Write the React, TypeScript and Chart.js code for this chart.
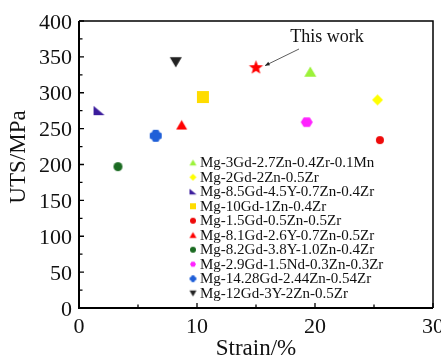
import { useEffect, useRef } from 'react';
import { Chart, registerables } from 'chart.js';

Chart.register(...registerables);

// Alloys compared: elongation (%) vs ultimate tensile strength (MPa)
const alloys = [
  'Mg-3Gd-2.7Zn-0.4Zr-0.1Mn',
  'Mg-2Gd-2Zn-0.5Zr',
  'Mg-8.5Gd-4.5Y-0.7Zn-0.4Zr',
  'Mg-10Gd-1Zn-0.4Zr',
  'Mg-1.5Gd-0.5Zn-0.5Zr',
  'Mg-8.1Gd-2.6Y-0.7Zn-0.5Zr',
  'Mg-8.2Gd-3.8Y-1.0Zn-0.4Zr',
  'Mg-2.9Gd-1.5Nd-0.3Zn-0.3Zr',
  'Mg-14.28Gd-2.44Zn-0.54Zr',
  'Mg-12Gd-3Y-2Zn-0.5Zr',
];
const strain = [19.6, 25.3, 1.7, 10.5, 25.5, 8.7, 3.3, 19.3, 6.5, 8.2];
const uts = [329, 290, 275, 294, 234, 255, 197, 259, 240, 343];

const thisWorkLabel = 'This work';
const thisWorkStrain = 15.0;
const thisWorkUts = 335;

const colors = [
  '#9cf23a', '#ffff00', '#3b1c9c', '#ffdc00', '#ee0a0a',
  '#ff0000', '#1b6b22', '#ff22ff', '#1f5fd8', '#222222',
];
const shapes = [
  'triangle', 'diamond', 'rightTriangle', 'square', 'circle',
  'triangle', 'circle', 'hexagon', 'cross', 'downTriangle',
];
const sizes = [12, 11, 11, 12, 8, 11, 9, 12, 12, 12];
const legendSizes = [7, 7, 7, 6, 6, 7, 6, 6, 7, 7];

const xTicks = [0, 10, 20, 30];
const yTicks = [0, 50, 100, 150, 200, 250, 300, 350, 400];

const SERIF = '"Liberation Serif", "Times New Roman", serif';

function makeMarker(shape: string, color: string, size: number): HTMLCanvasElement {
  const pad = 2;
  const w = Math.ceil(size + pad * 2);
  const c = document.createElement('canvas');
  c.width = w;
  c.height = w;
  const ctx = c.getContext('2d') as CanvasRenderingContext2D;
  const m = w / 2;
  const r = size / 2;
  ctx.fillStyle = color;
  ctx.beginPath();
  switch (shape) {
    case 'triangle':
      ctx.moveTo(m, m - r * 0.9);
      ctx.lineTo(m + r, m + r * 0.8);
      ctx.lineTo(m - r, m + r * 0.8);
      ctx.closePath();
      break;
    case 'downTriangle':
      ctx.moveTo(m - r, m - r * 0.8);
      ctx.lineTo(m + r, m - r * 0.8);
      ctx.lineTo(m, m + r * 0.9);
      ctx.closePath();
      break;
    case 'rightTriangle':
      ctx.moveTo(m - r, m - r * 0.85);
      ctx.lineTo(m + r, m + r * 0.8);
      ctx.lineTo(m - r, m + r * 0.8);
      ctx.closePath();
      break;
    case 'diamond':
      ctx.moveTo(m, m - r);
      ctx.lineTo(m + r, m);
      ctx.lineTo(m, m + r);
      ctx.lineTo(m - r, m);
      ctx.closePath();
      break;
    case 'square':
      ctx.rect(m - r, m - r, 2 * r, 2 * r);
      break;
    case 'circle':
      ctx.arc(m, m, r, 0, Math.PI * 2);
      break;
    case 'hexagon':
      for (let i = 0; i < 6; i++) {
        const a = (Math.PI / 3) * i;
        const px = m + r * Math.cos(a);
        const py = m + r * 0.92 * Math.sin(a);
        if (i === 0) ctx.moveTo(px, py);
        else ctx.lineTo(px, py);
      }
      ctx.closePath();
      break;
    case 'cross': {
      const a = r * 0.6;
      (ctx as any).roundRect(m - r, m - a, 2 * r, 2 * a, 2);
      (ctx as any).roundRect(m - a, m - r, 2 * a, 2 * r, 2);
      break;
    }
    case 'star':
      for (let i = 0; i < 10; i++) {
        const rad = i % 2 === 0 ? r : r * 0.42;
        const ang = -Math.PI / 2 + (Math.PI / 5) * i;
        const px = m + rad * Math.cos(ang);
        const py = m + rad * Math.sin(ang);
        if (i === 0) ctx.moveTo(px, py);
        else ctx.lineTo(px, py);
      }
      ctx.closePath();
      break;
  }
  ctx.fill();
  return c;
}

export default function App() {
  const canvasRef = useRef<HTMLCanvasElement | null>(null);

  useEffect(() => {
    document.body.style.margin = '0';
    const canvas = canvasRef.current;
    if (!canvas) return;

    const markers = shapes.map((s, i) => makeMarker(s, colors[i], sizes[i]));
    const legendMarkers = shapes.map((s, i) => makeMarker(s, colors[i], legendSizes[i]));
    const starMarker = makeMarker('star', '#ff0000', 15);

    const datasets: any[] = alloys.map((name, i) => ({
      label: name,
      data: [{ x: strain[i], y: uts[i] }],
      pointStyle: markers[i],
      backgroundColor: colors[i],
      borderColor: colors[i],
      pointRadius: sizes[i] / 2,
    }));
    datasets.push({
      label: thisWorkLabel,
      data: [{ x: thisWorkStrain, y: thisWorkUts }],
      pointStyle: starMarker,
      backgroundColor: '#ff0000',
      borderColor: '#ff0000',
      pointRadius: 7,
    });

    const framePlugin = {
      id: 'frameAndAxes',
      beforeDatasetsDraw(chart: any) {
        const { ctx, chartArea: a, scales } = chart;
        const xs = scales.x;
        const ys = scales.y;
        ctx.save();
        ctx.strokeStyle = '#000';
        // top and right frame
        ctx.lineWidth = 1.5;
        ctx.beginPath();
        ctx.moveTo(a.left, a.top);
        ctx.lineTo(a.right, a.top);
        ctx.lineTo(a.right, a.bottom);
        ctx.stroke();
        // left and bottom axes
        ctx.lineWidth = 2;
        ctx.beginPath();
        ctx.moveTo(a.left, a.top);
        ctx.lineTo(a.left, a.bottom);
        ctx.lineTo(a.right, a.bottom);
        ctx.stroke();

        // inward ticks
        ctx.lineWidth = 1.3;
        ctx.beginPath();
        for (let i = 0; i < yTicks.length; i++) {
          const py = ys.getPixelForValue(yTicks[i]);
          ctx.moveTo(a.left, py);
          ctx.lineTo(a.left + 5, py);
          if (i < yTicks.length - 1) {
            const pm = ys.getPixelForValue((yTicks[i] + yTicks[i + 1]) / 2);
            ctx.moveTo(a.left, pm);
            ctx.lineTo(a.left + 3.5, pm);
          }
        }
        for (let i = 0; i < xTicks.length; i++) {
          const px = xs.getPixelForValue(xTicks[i]);
          ctx.moveTo(px, a.bottom);
          ctx.lineTo(px, a.bottom - 5);
          if (i < xTicks.length - 1) {
            const pm = xs.getPixelForValue((xTicks[i] + xTicks[i + 1]) / 2);
            ctx.moveTo(pm, a.bottom);
            ctx.lineTo(pm, a.bottom - 3.5);
          }
        }
        ctx.stroke();
        ctx.restore();
      },
      afterDraw(chart: any) {
        const { ctx, chartArea: a, scales } = chart;
        const xs = scales.x;
        const ys = scales.y;
        ctx.save();
        ctx.fillStyle = '#111';

        // tick labels
        ctx.font = `22px ${SERIF}`;
        ctx.textAlign = 'right';
        ctx.textBaseline = 'alphabetic';
        yTicks.forEach((v) => {
          ctx.fillText(String(v), a.left - 7, ys.getPixelForValue(v) + 7.5);
        });
        ctx.textAlign = 'center';
        xTicks.forEach((v) => {
          ctx.fillText(String(v), xs.getPixelForValue(v), a.bottom + 25);
        });

        // axis titles
        ctx.font = `23px ${SERIF}`;
        ctx.fillText('Strain/%', 256, 355);
        ctx.save();
        ctx.translate(25, 157);
        ctx.rotate(-Math.PI / 2);
        ctx.textAlign = 'center';
        ctx.fillText('UTS/MPa', 0, 0);
        ctx.restore();

        // legend
        ctx.font = `15px ${SERIF}`;
        ctx.textAlign = 'left';
        ctx.textBaseline = 'middle';
        alloys.forEach((name, i) => {
          const ry = 162.7 + 14.5 * i;
          const mk = legendMarkers[i];
          ctx.drawImage(mk, 193 - mk.width / 2, ry - mk.height / 2);
          ctx.fillStyle = '#111';
          ctx.fillText(name, 200, ry + 0.5);
        });

        // "This work" annotation with arrow to the star
        const sx = xs.getPixelForValue(thisWorkStrain);
        const sy = ys.getPixelForValue(thisWorkUts);
        ctx.font = `18px ${SERIF}`;
        ctx.textAlign = 'center';
        ctx.textBaseline = 'alphabetic';
        ctx.fillText(thisWorkLabel, 327, 42);
        const x0 = 299, y0 = 49;
        const x1 = sx + 9, y1 = sy - 2;
        ctx.strokeStyle = '#333';
        ctx.lineWidth = 0.8;
        ctx.beginPath();
        ctx.moveTo(x0, y0);
        ctx.lineTo(x1, y1);
        ctx.stroke();
        const ang = Math.atan2(y1 - y0, x1 - x0);
        const hl = 5;
        ctx.fillStyle = '#222';
        ctx.beginPath();
        ctx.moveTo(x1, y1);
        ctx.lineTo(x1 - hl * Math.cos(ang - 0.4), y1 - hl * Math.sin(ang - 0.4));
        ctx.lineTo(x1 - hl * Math.cos(ang + 0.4), y1 - hl * Math.sin(ang + 0.4));
        ctx.closePath();
        ctx.fill();
        ctx.restore();
      },
    };

    const chart = new Chart(canvas, {
      type: 'scatter',
      data: { datasets },
      options: {
        responsive: false,
        animation: false,
        events: [],
        layout: { padding: { top: 21, right: 5, left: 0, bottom: 0 } },
        plugins: {
          legend: { display: false },
          tooltip: { enabled: false },
          title: { display: false },
        },
        scales: {
          x: {
            type: 'linear',
            min: 0,
            max: 30,
            ticks: { display: false, stepSize: 10 },
            grid: { display: false },
            border: { display: false },
            afterFit: (s: any) => {
              s.height = 50;
            },
          },
          y: {
            type: 'linear',
            min: 0,
            max: 400,
            ticks: { display: false, stepSize: 50 },
            grid: { display: false },
            border: { display: false },
            afterFit: (s: any) => {
              s.width = 79;
            },
          },
        },
      } as any,
      plugins: [framePlugin],
    });

    return () => chart.destroy();
  }, []);

  return (
    <canvas
      ref={canvasRef}
      width={441}
      height={358}
      style={{ display: 'block', width: 441, height: 358 }}
    />
  );
}
